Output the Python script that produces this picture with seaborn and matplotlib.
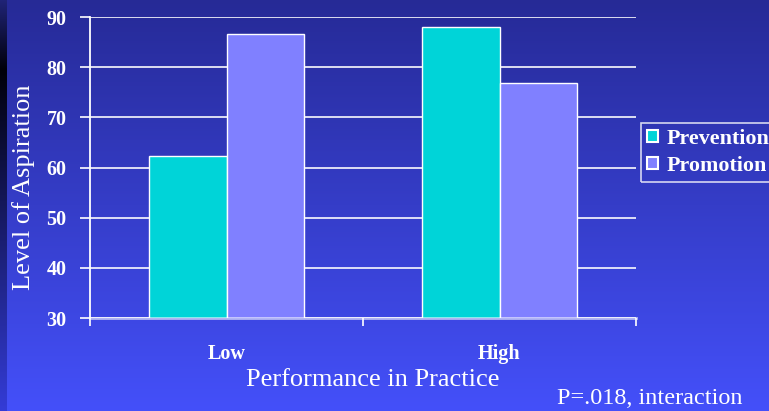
import numpy as np
import pandas as pd
import matplotlib
matplotlib.use("Agg")
import matplotlib.pyplot as plt
from matplotlib.patches import Patch
import seaborn as sns

# ---- data ----
performance = ["Low", "High"]
focus = ["Prevention", "Promotion"]
prevention_vals = [62.3, 88.0]
promotion_vals = [86.6, 76.8]
y_ticks = [30, 40, 50, 60, 70, 80, 90]

colors = {"Prevention": "#00d4d8", "Promotion": "#8080ff"}

df = pd.DataFrame({
    "Performance": performance * 2,
    "Focus": ["Prevention"] * 2 + ["Promotion"] * 2,
    "Aspiration": prevention_vals + promotion_vals,
})

plt.rcParams["font.family"] = ["Liberation Serif", "DejaVu Serif"]

W, H = 769, 411
fig = plt.figure(figsize=(W / 100, H / 100), dpi=100)

# ---- gradient background ----
bg = fig.add_axes([0, 0, 1, 1], zorder=-10)
t = np.linspace(0, 1, H)[:, None]
top = np.array([38, 42, 150]) / 255
bot = np.array([68, 80, 250]) / 255
grad = top[None, :] * (1 - t) + bot[None, :] * t
img = np.repeat(grad[:, None, :], W, axis=1)
# dark strip on the left
ys = np.arange(H)
c_top = np.array([32, 36, 120]) / 255
c_mid = np.array([0, 0, 10]) / 255
c_bot = np.array([52, 60, 215]) / 255
strip = np.zeros((H, 3))
for i in ys:
    if i < 70:
        f = i / 70
        strip[i] = c_top * (1 - f) + c_mid * f
    else:
        f = (i - 70) / (H - 70)
        strip[i] = c_mid * (1 - f) + c_bot * f
img[:, :7, :] = strip[:, None, :]
bg.imshow(img, aspect="auto", extent=[0, 1, 0, 1], interpolation="bilinear")
bg.axis("off")

# ---- main axes ----
ax = fig.add_axes([90 / W, 1 - 318 / H, 546 / W, 301 / H])
ax.set_facecolor("none")

sns.barplot(data=df, x="Performance", y="Aspiration", hue="Focus",
            order=performance, hue_order=focus, palette=colors,
            width=0.57, edgecolor="white", linewidth=1.0,
            saturation=1, legend=False, ax=ax, zorder=2)

ax.set_ylim(30, 90)
ax.set_xlim(-0.5, 1.5)
ax.set_yticks(y_ticks)
ax.set_yticklabels([str(v) for v in y_ticks], fontweight="bold", fontsize=14.5,
                   color="white")
ax.tick_params(axis="y", length=7, width=1.2, color="white", pad=10)

ax.set_xticks([-0.5, 0.5, 1.5])
ax.set_xticklabels([])
ax.tick_params(axis="x", which="major", length=6, width=1.2, color="white")
ax.set_xticks([0, 1], minor=True)
ax.set_xticklabels(performance, minor=True, fontweight="bold", fontsize=14.5,
                   color="white")
ax.tick_params(axis="x", which="minor", length=0, pad=19)

ax.set_axisbelow(True)
ax.yaxis.grid(True, color="white", linewidth=1.3, alpha=0.9)
ax.xaxis.grid(False)
for s in ["top", "right"]:
    ax.spines[s].set_visible(False)
ax.spines["left"].set_color("white")
ax.spines["left"].set_linewidth(1.3)
ax.spines["bottom"].set_color("white")
ax.spines["bottom"].set_alpha(0.6)
ax.spines["bottom"].set_linewidth(2)
ax.spines["bottom"].set_zorder(5)
ax.set_xlabel("")
ax.set_ylabel("")

# ---- texts ----
fig.text(373 / W, 1 - 380 / H, "Performance in Practice", color="white",
         fontsize=19, ha="center", va="center")
fig.text(24 / W, 1 - 187 / H, "Level of Aspiration", color="white",
         fontsize=19, ha="center", va="center", rotation=90)
fig.text(557 / W, 1 - 398 / H, "P=.018, interaction", color="white",
         fontsize=17.5, ha="left", va="center")

# ---- legend ----
handles = [Patch(facecolor=colors[k], edgecolor="white", linewidth=1.5, label=k)
           for k in focus]
leg = fig.legend(handles=handles, loc="upper left",
                 bbox_to_anchor=(641 / W, 1 - 123 / H),
                 bbox_transform=fig.transFigure,
                 prop={"weight": "bold", "size": 15.8}, labelcolor="white",
                 frameon=True, fancybox=False, borderpad=0.28,
                 handlelength=0.48, handleheight=0.48, handletextpad=0.4,
                 labelspacing=0.3, borderaxespad=0)
leg.get_frame().set_facecolor("none")
leg.get_frame().set_edgecolor((1, 1, 1, 0.6))
leg.get_frame().set_linewidth(1.2)

fig.savefig("out.png", dpi=100)
